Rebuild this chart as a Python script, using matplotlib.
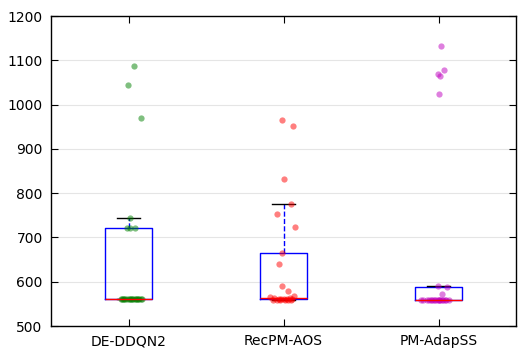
import numpy as np
import matplotlib
matplotlib.use("Agg")
import matplotlib.pyplot as plt

labels = ['DE-DDQN2', 'RecPM-AOS', 'PM-AdapSS']

# final values per run
de_ddqn2 = [1088, 1045, 970, 745, 722, 722, 722] + [560] * 18
recpm_aos = [965, 952, 832, 775, 753, 723, 665, 640, 590, 579,
             567, 565, 563, 563, 562, 562, 561, 560, 560, 559, 559, 558, 558, 558, 558]
pm_adapss = [1132, 1079, 1068, 1064, 1023, 590, 588, 572] + [559] * 17

# horizontal jitter of each point (as seen in the picture)
de_ddqn2_dx = [0.034, -0.005, 0.08, 0.008, -0.01, 0.01, 0.045,
               -0.05, -0.04, -0.03, -0.02, -0.01, 0.0, 0.01, 0.02, 0.03,
               0.04, 0.05, 0.06, 0.07, 0.08, 0.09, -0.035, 0.015, 0.055]
recpm_aos_dx = [-0.011, 0.06, 0.002, 0.047, -0.043, 0.073, -0.011, -0.03, -0.011, 0.028,
                0.065, -0.085, 0.04, -0.06, 0.02, -0.03, 0.055, -0.015, 0.0, -0.07,
                0.03, -0.045, 0.05, 0.01, -0.02]
pm_adapss_dx = [0.015, 0.034, -0.006, 0.011, 0.002, -0.004, 0.056, 0.021,
                -0.11, -0.1, -0.06, -0.05, -0.04, -0.03, -0.02, -0.01, 0.0,
                0.01, 0.02, 0.03, 0.04, 0.05, 0.065, -0.075, 0.005]

data = [de_ddqn2, recpm_aos, pm_adapss]
jitter = [de_ddqn2_dx, recpm_aos_dx, pm_adapss_dx]
colors = ['#008000', 'red', '#bf00bf']

fig = plt.figure(figsize=(5.26, 3.56), dpi=100)
ax = fig.add_axes([51/526, 30/356, 465/526, 310/356])

ax.boxplot(data, sym='', widths=0.3,
           boxprops=dict(color='blue', linewidth=1),
           medianprops=dict(color='red', linewidth=1),
           whiskerprops=dict(color='blue', linestyle='--', linewidth=1),
           capprops=dict(color='black', linewidth=1))

for i in range(3):
    xs = np.array(jitter[i]) + i + 1
    ax.plot(xs, data[i], 'o', color=colors[i], alpha=0.5, markersize=4.5,
            markeredgewidth=0)

ax.set_xlim(0.5, 3.5)
ax.set_ylim(500, 1200)
ax.set_xticks([1, 2, 3])
ax.set_xticklabels(labels)
ax.set_yticks(np.arange(500, 1201, 100))
ax.yaxis.grid(True, color='#e5e5e5', linewidth=0.8)
ax.set_axisbelow(True)
ax.tick_params(direction='in', top=True, right=True, length=5, labelsize=10, pad=6)
for s in ax.spines.values():
    s.set_linewidth(1)

fig.savefig('out.png', dpi=100, facecolor='white')
